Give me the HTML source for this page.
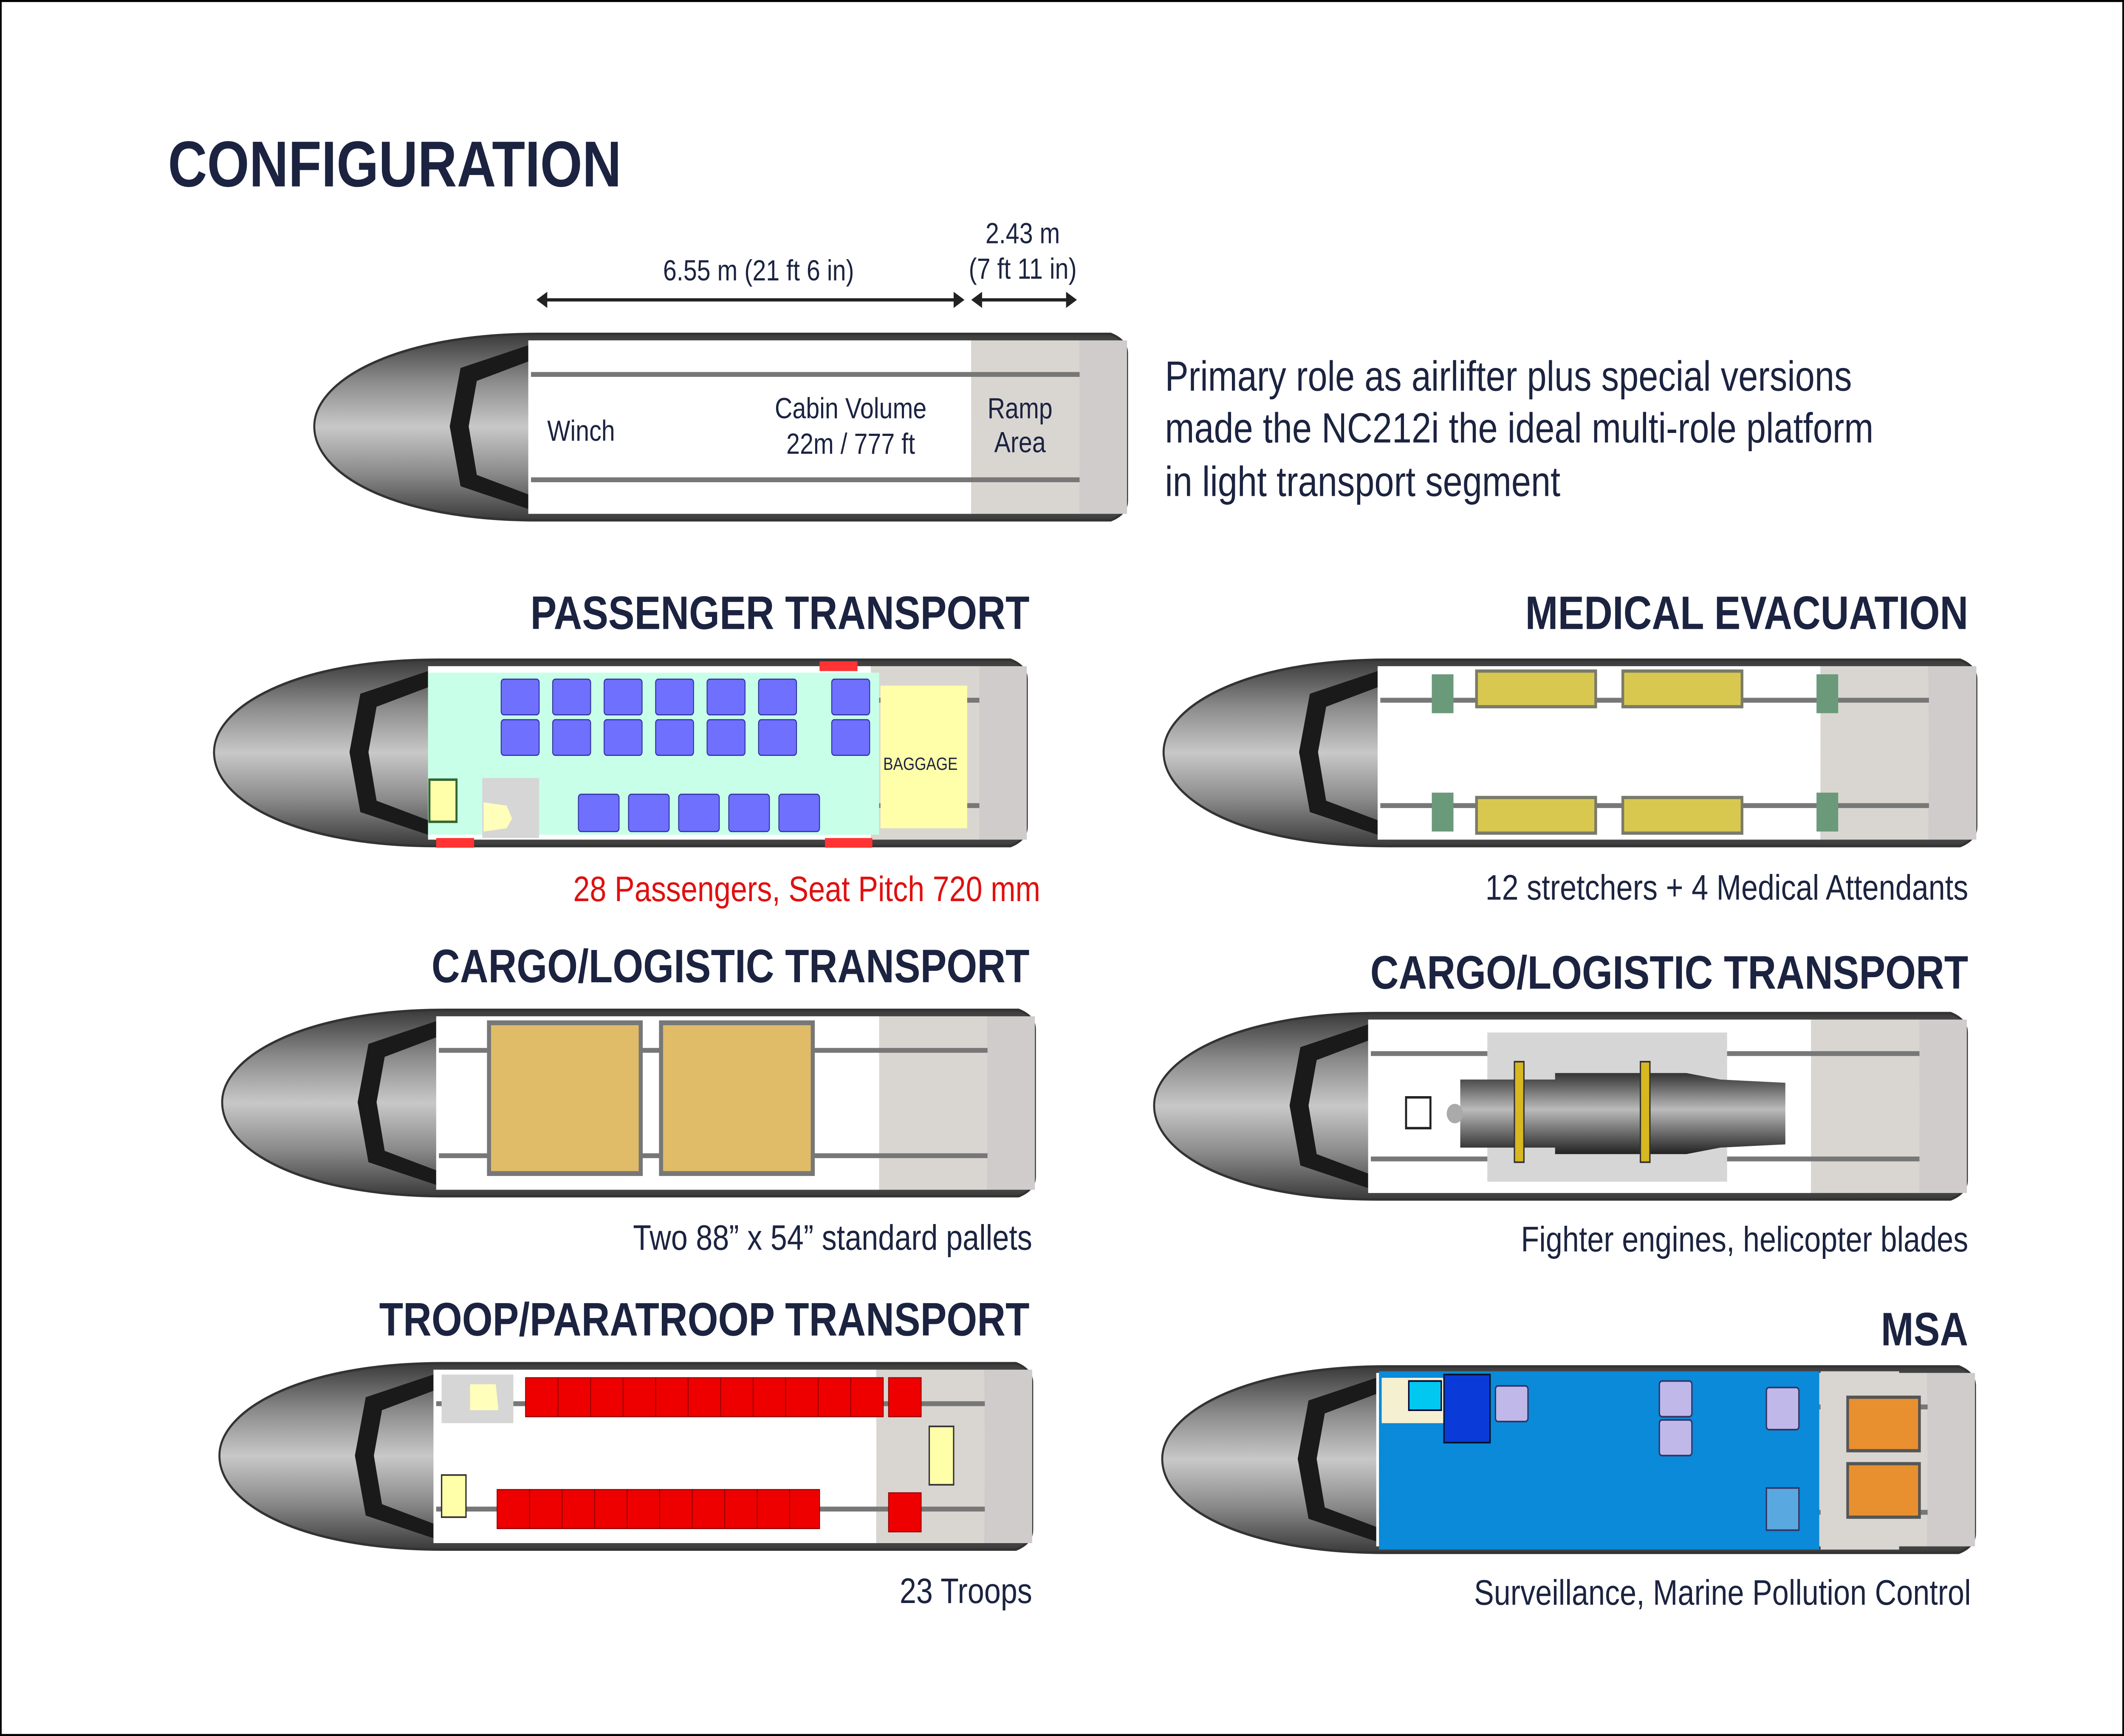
<!DOCTYPE html>
<html><head><meta charset="utf-8"><style>
html,body{margin:0;padding:0;background:#fff;width:100%;height:100%;overflow:hidden}
svg{display:block;position:absolute;left:0;top:0;width:100vw;height:100vh}
text{font-family:"Liberation Sans","DejaVu Sans",sans-serif;fill:#1b2340}
.h{font-weight:bold;font-size:29px}
.c{font-size:22px}
</style></head><body>
<svg viewBox="0 0 1568 1071" preserveAspectRatio="none" xmlns="http://www.w3.org/2000/svg">
<defs>
<linearGradient id="g" x1="0" y1="0" x2="0" y2="1">
<stop offset="0" stop-color="#3a3a3a"/><stop offset="0.25" stop-color="#8a8a8a"/><stop offset="0.5" stop-color="#c8c8c8"/><stop offset="0.75" stop-color="#8a8a8a"/><stop offset="1" stop-color="#3a3a3a"/></linearGradient>
<linearGradient id="e" x1="0" y1="0" x2="0" y2="1"><stop offset="0" stop-color="#333"/><stop offset="0.45" stop-color="#bbb"/><stop offset="1" stop-color="#222"/></linearGradient>
<g id="f">
<path d="M165,1 C60,1 0,30 0,58 C0,88 60,116 165,116 L588,116 Q600,112 600,104 L600,13 Q600,5 588,1 Z" fill="url(#g)" stroke="#333" stroke-width="1.5"/>
<path d="M158,8 L108,22 L100,58 L108,95 L158,109 L158,100 L120,88 L114,58 L120,30 L158,18 Z" fill="#1a1a1a"/>
<rect x="158" y="5" width="327" height="107" fill="#fff"/>
<rect x="485" y="5" width="80" height="107" fill="#d9d6d2"/>
<rect x="565" y="5" width="35" height="107" fill="#cfcccb"/>
<line x1="160" y1="26" x2="565" y2="26" stroke="#777" stroke-width="3"/>
<line x1="160" y1="91" x2="565" y2="91" stroke="#777" stroke-width="3"/>
</g>
</defs>
<rect x="0.5" y="0.5" width="1567" height="1070" fill="#fff" stroke="#000" stroke-width="1.5"/>
<text x="124" y="115" style="font-weight:bold;font-size:40px">CONFIGURATION</text>

<use href="#f" transform="translate(232,205)"/>
<line x1="400" y1="185" x2="708" y2="185" stroke="#222" stroke-width="2"/>
<path d="M396,185 L404,180 L404,190Z M712,185 L704,180 L704,190Z M717,185 L725,180 L725,190Z M795,185 L787,180 L787,190Z" fill="#222"/>
<line x1="720" y1="185" x2="792" y2="185" stroke="#222" stroke-width="2"/>
<text x="560" y="173" text-anchor="middle" style="font-size:18px">6.55 m (21 ft 6 in)</text>
<text x="755" y="150" text-anchor="middle" style="font-size:18px">2.43 m</text>
<text x="755" y="172" text-anchor="middle" style="font-size:18px">(7 ft 11 in)</text>
<text x="404" y="272" style="font-size:18px">Winch</text>
<text x="628" y="258" text-anchor="middle" style="font-size:18px">Cabin Volume</text>
<text x="628" y="280" text-anchor="middle" style="font-size:18px">22m  / 777 ft</text>
<text x="753" y="258" text-anchor="middle" style="font-size:18px">Ramp</text>
<text x="753" y="279" text-anchor="middle" style="font-size:18px">Area</text>
<text x="860" y="241" style="font-size:26px">Primary role as airlifter plus special versions</text>
<text x="860" y="273" style="font-size:26px">made the NC212i the ideal multi-role platform</text>
<text x="860" y="306" style="font-size:26px">in light transport segment</text>

<text x="760" y="388" class="h" text-anchor="end">PASSENGER TRANSPORT</text>
<use href="#f" transform="translate(158,406)"/>
<rect x="316" y="415" width="333" height="100" fill="#c8ffe8"/>
<rect x="605" y="408" width="28" height="6" fill="#f33"/>
<rect x="322" y="517" width="28" height="6" fill="#f33"/>
<rect x="609" y="517" width="35" height="6" fill="#f33"/>
<rect x="650" y="423" width="64" height="88" fill="#ffffaa"/>
<text x="652" y="475" style="font-size:11px">BAGGAGE</text>
<g fill="#7070ff" stroke="#3030a0" stroke-width="0.7">
<rect x="370" y="419" width="28" height="22" rx="2"/><rect x="408" y="419" width="28" height="22" rx="2"/><rect x="446" y="419" width="28" height="22" rx="2"/><rect x="484" y="419" width="28" height="22" rx="2"/><rect x="522" y="419" width="28" height="22" rx="2"/><rect x="560" y="419" width="28" height="22" rx="2"/><rect x="614" y="419" width="28" height="22" rx="2"/>
<rect x="370" y="444" width="28" height="22" rx="2"/><rect x="408" y="444" width="28" height="22" rx="2"/><rect x="446" y="444" width="28" height="22" rx="2"/><rect x="484" y="444" width="28" height="22" rx="2"/><rect x="522" y="444" width="28" height="22" rx="2"/><rect x="560" y="444" width="28" height="22" rx="2"/><rect x="614" y="444" width="28" height="22" rx="2"/>
<rect x="427" y="490" width="30" height="23" rx="2"/><rect x="464" y="490" width="30" height="23" rx="2"/><rect x="501" y="490" width="30" height="23" rx="2"/><rect x="538" y="490" width="30" height="23" rx="2"/><rect x="575" y="490" width="30" height="23" rx="2"/>
</g>
<rect x="317" y="481" width="20" height="26" fill="#ffffaa" stroke="#363" stroke-width="1.5"/>
<rect x="356" y="480" width="42" height="37" fill="#d6d6d6"/>
<path d="M357,495 L374,497 L378,505 L374,511 L357,513Z" fill="#ffffbb"/>
<text x="768" y="556" class="c" text-anchor="end" style="fill:#e01010">28 Passengers, Seat Pitch 720 mm</text>

<text x="1453" y="388" class="h" text-anchor="end">MEDICAL EVACUATION</text>
<use href="#f" transform="translate(859,406)"/>
<g fill="#d8c850" stroke="#7a7a6a" stroke-width="2">
<rect x="1090" y="414" width="88" height="22"/><rect x="1198" y="414" width="88" height="22"/>
<rect x="1090" y="492" width="88" height="22"/><rect x="1198" y="492" width="88" height="22"/></g>
<g fill="#6a9a7a"><rect x="1057" y="416" width="16" height="24"/><rect x="1057" y="489" width="16" height="24"/><rect x="1341" y="416" width="16" height="24"/><rect x="1341" y="489" width="16" height="24"/></g>
<text x="1453" y="555" class="c" text-anchor="end">12 stretchers + 4 Medical Attendants</text>

<text x="760" y="606" class="h" text-anchor="end">CARGO/LOGISTIC TRANSPORT</text>
<use href="#f" transform="translate(164,622)"/>
<g fill="#e0bc68" stroke="#777" stroke-width="3"><rect x="361" y="631" width="112" height="93"/><rect x="488" y="631" width="112" height="93"/></g>
<text x="762" y="771" class="c" text-anchor="end">Two 88” x 54” standard pallets</text>

<text x="1453" y="610" class="h" text-anchor="end">CARGO/LOGISTIC TRANSPORT</text>
<use href="#f" transform="translate(852,624)"/>
<rect x="1098" y="637" width="177" height="92" fill="#d6d6d6"/>
<path d="M1078,666 L1148,666 L1148,662 L1245,662 L1270,666 L1318,668 L1318,706 L1270,708 L1245,712 L1148,712 L1148,708 L1078,708Z" fill="url(#e)"/>
<circle cx="1074" cy="687" r="6" fill="#aaa"/>
<rect x="1118" y="655" width="7" height="62" fill="#d8b820" stroke="#333"/>
<rect x="1211" y="655" width="7" height="62" fill="#d8b820" stroke="#333"/>
<rect x="1038" y="677" width="18" height="19" fill="#fff" stroke="#222" stroke-width="1.5"/>
<text x="1453" y="772" class="c" text-anchor="end">Fighter engines, helicopter blades</text>

<text x="760" y="824" class="h" text-anchor="end">TROOP/PARATROOP TRANSPORT</text>
<use href="#f" transform="translate(162,840)"/>
<rect x="326" y="848" width="53" height="30" fill="#d6d6d6"/>
<path d="M347,854 L366,854 L368,870 L347,870Z" fill="#ffffbb"/>
<g fill="#ee0000" stroke="#900" stroke-width="0.7">
<rect x="388" y="850" width="24" height="24"/><rect x="412" y="850" width="24" height="24"/><rect x="436" y="850" width="24" height="24"/><rect x="460" y="850" width="24" height="24"/><rect x="484" y="850" width="24" height="24"/><rect x="508" y="850" width="24" height="24"/><rect x="532" y="850" width="24" height="24"/><rect x="556" y="850" width="24" height="24"/><rect x="580" y="850" width="24" height="24"/><rect x="604" y="850" width="24" height="24"/><rect x="628" y="850" width="24" height="24"/><rect x="656" y="850" width="24" height="24"/>
<rect x="367" y="919" width="24" height="24"/><rect x="391" y="919" width="24" height="24"/><rect x="415" y="919" width="24" height="24"/><rect x="439" y="919" width="24" height="24"/><rect x="463" y="919" width="24" height="24"/><rect x="487" y="919" width="24" height="24"/><rect x="511" y="919" width="24" height="24"/><rect x="535" y="919" width="24" height="24"/><rect x="559" y="919" width="24" height="24"/><rect x="583" y="919" width="22" height="24"/><rect x="656" y="921" width="24" height="24"/>
</g>
<rect x="326" y="910" width="18" height="26" fill="#ffffaa" stroke="#333"/>
<rect x="686" y="880" width="18" height="36" fill="#ffffaa" stroke="#333"/>
<text x="762" y="989" class="c" text-anchor="end">23 Troops</text>

<text x="1453" y="830" class="h" text-anchor="end">MSA</text>
<use href="#f" transform="translate(858,842)"/>
<rect x="1018" y="846" width="325" height="110" fill="#0a8ad8"/>
<rect x="1020" y="850" width="46" height="28" fill="#f5f0d0"/>
<rect x="1040" y="852" width="24" height="18" fill="#00c8f0" stroke="#003"/>
<rect x="1066" y="848" width="34" height="42" fill="#0a3bd8" stroke="#012"/>
<rect x="1344" y="846" width="58" height="110" fill="#d9d6d2"/>
<g fill="#c0b8e8" stroke="#336" stroke-width="1"><rect x="1104" y="855" width="24" height="22" rx="2"/><rect x="1225" y="852" width="24" height="22" rx="2"/><rect x="1225" y="876" width="24" height="22" rx="2"/><rect x="1304" y="856" width="24" height="26" rx="2"/></g>
<rect x="1304" y="918" width="24" height="26" fill="#5aa8e0" stroke="#336"/>
<g fill="#e89030" stroke="#555" stroke-width="2"><rect x="1364" y="862" width="53" height="33"/><rect x="1364" y="903" width="53" height="33"/></g>
<text x="1455" y="990" class="c" text-anchor="end">Surveillance, Marine Pollution Control</text>
</svg>
</body></html>
